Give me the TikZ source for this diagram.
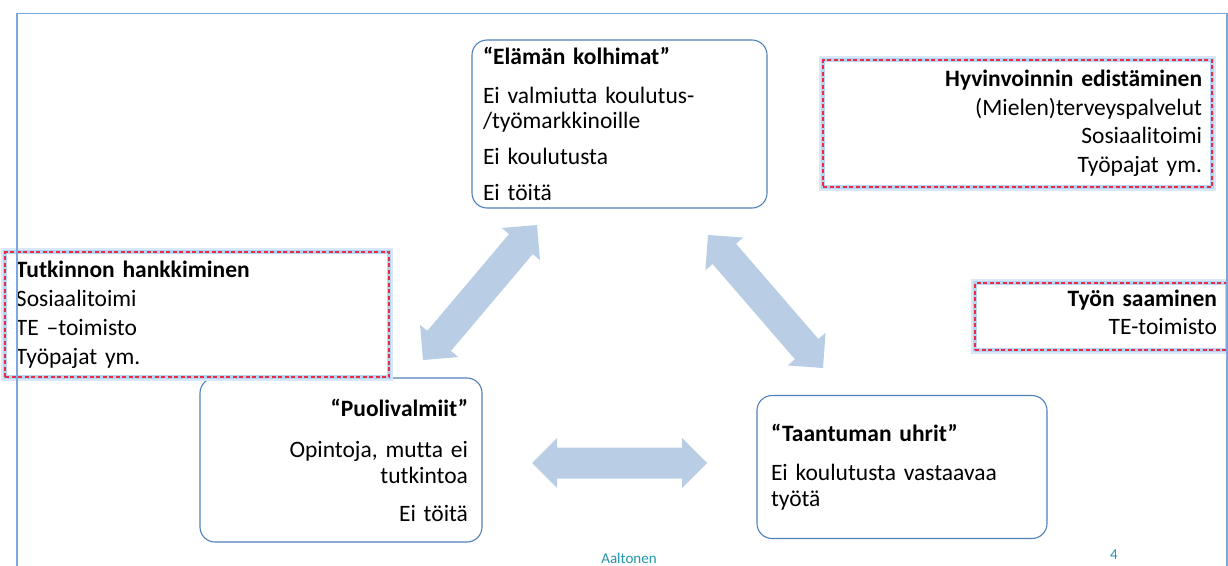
\documentclass[tikz,border=0pt]{standalone}
\usepackage{fontspec}
\setmainfont{Carlito}[Ligatures={NoCommon}]
\usetikzlibrary{calc}
\definecolor{boxblue}{RGB}{79,129,189}
\definecolor{arrowfill}{RGB}{185,205,229}
\definecolor{framecol}{RGB}{125,168,222}
\definecolor{glowcol}{RGB}{170,205,240}
\definecolor{dashred}{RGB}{232,45,70}
\definecolor{footteal}{RGB}{35,150,170}
\newcommand\blockarrow[2]{%
  \coordinate (#1-h) at ($(#1)!25pt!(#2)$);
  \coordinate (#2-h) at ($(#2)!25pt!(#1)$);
  \fill[arrowfill] (#1) -- ($(#1-h)!25pt!90:(#2)$) -- ($(#1-h)!15.5pt!90:(#2)$)
    -- ($(#2-h)!15.5pt!-90:(#1)$) -- ($(#2-h)!25pt!-90:(#1)$) -- (#2)
    -- ($(#2-h)!25pt!90:(#1)$) -- ($(#2-h)!15.5pt!90:(#1)$)
    -- ($(#1-h)!15.5pt!-90:(#2)$) -- ($(#1-h)!25pt!-90:(#2)$) -- cycle;}
\begin{document}
\begin{tikzpicture}[x=1pt,y=-1pt,
  mainbox/.style={draw=boxblue, line width=1.1pt, rounded corners=15pt, fill=white,
    inner sep=0pt, font=\fontsize{23.5}{26}\selectfont},
  sidebox/.style={fill=white, inner sep=0pt,
    preaction={draw=glowcol!45, line width=8pt},
    draw=glowcol!85, line width=4pt,
    postaction={draw=dashred, line width=1.1pt, dash pattern=on 4pt off 2.5pt},
    font=\fontsize{23.5}{29}\selectfont},
  footer/.style={text=footteal, inner sep=0pt, anchor=base}]
\useasboundingbox (0,0) rectangle (1228,565);

% main boxes
\node[mainbox, minimum width=295pt, minimum height=168pt, text width=273pt, align=left,
  font=\fontsize{23.5}{25}\selectfont] (kolhimat) at (619.5,124)
  {\textbf{“Elämän kolhimat”}\\[14pt]Ei valmiutta koulutus-\\/työmarkkinoille\\[11pt]Ei koulutusta\\[11pt]Ei töitä};
\node[mainbox, minimum width=282pt, minimum height=164pt, text width=254pt, align=right] (puoli) at (341,460)
  {\textbf{“Puolivalmiit”}\\[15pt]Opintoja, mutta ei\\tutkintoa\\[12pt]Ei töitä};
\node[mainbox, minimum width=290pt, minimum height=143pt, text width=262pt, align=left] (taantuma) at (902,467)
  {\textbf{“Taantuman uhrit”}\\[13pt]Ei koulutusta vastaavaa\\työtä};

% side boxes
\node[sidebox, minimum width=384pt, minimum height=125pt, text width=362pt, align=left] (tutkinto) at (197,314.5)
  {\textbf{Tutkinnon hankkiminen}\\Sosiaalitoimi\\TE –toimisto\\Työpajat ym.};
\node[sidebox, minimum width=389pt, minimum height=127pt, text width=369pt, align=right,
  font=\fontsize{23.5}{28.5}\selectfont] (hyvinvointi) at (1017.5,123.5)
  {\textbf{Hyvinvoinnin edistäminen}\\(Mielen)terveyspalvelut\\Sosiaalitoimi\\Työpajat ym.};
\node[sidebox, minimum width=252pt, minimum height=67pt, text width=232pt, align=right,
  font=\fontsize{23.5}{28}\selectfont] (tyo) at (1101,316.5)
  {\textbf{Työn saaminen}\\TE-toimisto\\[-20pt]\mbox{}};

% arrows
\coordinate (a1s) at (423,360); \coordinate (a1e) at (537,225);
\coordinate (a2s) at (708,235); \coordinate (a2e) at (823,368);
\coordinate (a3s) at (532,463); \coordinate (a3e) at (707,463);
\blockarrow{a1s}{a1e}
\blockarrow{a2s}{a2e}
\blockarrow{a3s}{a3e}

% frame
\coordinate (f1) at (17,566); \coordinate (f2) at (17,13.5);
\coordinate (f3) at (1227,13.5); \coordinate (f4) at (1227,566);
\draw[framecol, line width=1.1pt] (f1) -- (f2) -- (f3) -- (f4);

% footer
\node[footer, font=\fontsize{15}{17}\selectfont] (author) at (629,563.5) {Aaltonen};
\node[footer, font=\fontsize{15}{17}\selectfont] (page) at (1114,559) {4};
\end{tikzpicture}
\end{document}
